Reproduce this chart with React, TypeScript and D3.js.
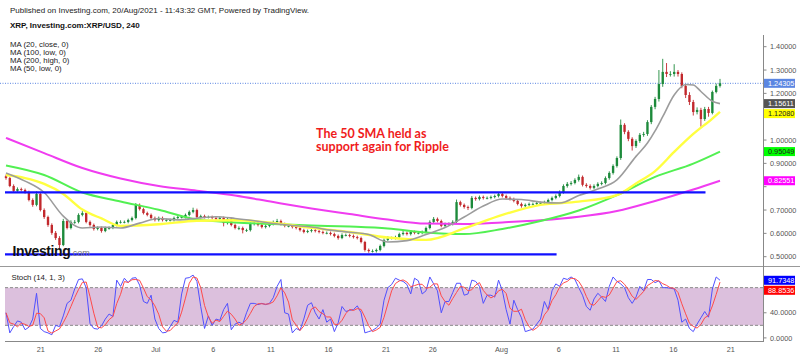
import React from 'react';
import * as d3 from 'd3';

// ---------- DATA ----------
const firstOpen = 0.845;
const closes = [
  0.837,0.803,0.782,0.790,0.786,0.777,0.743,0.722,0.769,0.700,
  0.670,0.636,0.602,0.580,0.550,0.653,0.623,0.649,0.649,0.679,
  0.687,0.649,0.636,0.619,0.623,0.610,0.623,0.623,0.636,0.649,
  0.649,0.649,0.657,0.666,0.722,0.704,0.687,0.679,0.666,0.657,
  0.666,0.657,0.657,0.657,0.666,0.670,0.670,0.679,0.692,0.700,
  0.670,0.674,0.670,0.670,0.666,0.662,0.666,0.644,0.662,0.636,
  0.623,0.623,0.614,0.614,0.640,0.644,0.636,0.627,0.632,0.640,
  0.649,0.653,0.640,0.632,0.632,0.627,0.623,0.614,0.606,0.610,
  0.614,0.610,0.606,0.602,0.602,0.597,0.589,0.580,0.593,0.593,
  0.589,0.584,0.580,0.563,0.529,0.524,0.524,0.529,0.546,0.572,
  0.580,0.580,0.584,0.597,0.602,0.597,0.606,0.602,0.602,0.606,
  0.623,0.649,0.662,0.653,0.632,0.640,0.640,0.649,0.734,0.722,
  0.713,0.709,0.752,0.747,0.756,0.752,0.752,0.756,0.760,0.769,
  0.760,0.752,0.747,0.739,0.726,0.717,0.722,0.726,0.726,0.730,
  0.730,0.734,0.743,0.752,0.760,0.777,0.803,0.812,0.816,0.829,
  0.842,0.808,0.803,0.795,0.803,0.812,0.816,0.837,0.859,0.889,
  0.923,1.065,1.035,1.005,0.974,0.996,1.022,1.026,1.077,1.142,
  1.176,1.240,1.292,1.283,1.283,1.292,1.283,1.232,1.193,1.163,
  1.120,1.129,1.090,1.133,1.116,1.206,1.232,1.24305,
];
const highs = [
  0.852,0.842,0.810,0.797,0.796,0.792,0.783,0.750,0.780,0.775,
  0.707,0.676,0.643,0.610,0.588,0.662,0.660,0.656,0.657,0.686,
  0.695,0.693,0.655,0.642,0.630,0.629,0.629,0.630,0.642,0.655,
  0.656,0.655,0.663,0.672,0.730,0.728,0.710,0.693,0.685,0.672,
  0.672,0.672,0.663,0.663,0.672,0.676,0.676,0.685,0.698,0.710,
  0.706,0.680,0.680,0.676,0.676,0.672,0.672,0.672,0.668,0.668,
  0.642,0.630,0.629,0.620,0.646,0.652,0.650,0.642,0.638,0.646,
  0.655,0.662,0.659,0.646,0.638,0.638,0.633,0.629,0.620,0.616,
  0.620,0.620,0.616,0.612,0.608,0.608,0.603,0.595,0.600,0.599,
  0.599,0.595,0.590,0.586,0.568,0.535,0.531,0.535,0.552,0.578,
  0.588,0.586,0.590,0.603,0.610,0.608,0.612,0.612,0.608,0.612,
  0.629,0.656,0.670,0.668,0.659,0.646,0.647,0.656,0.745,0.740,
  0.728,0.719,0.760,0.758,0.762,0.762,0.758,0.762,0.766,0.777,
  0.775,0.766,0.758,0.753,0.745,0.732,0.728,0.732,0.732,0.736,
  0.736,0.740,0.749,0.758,0.767,0.784,0.810,0.820,0.824,0.836,
  0.852,0.848,0.815,0.810,0.810,0.819,0.823,0.844,0.866,0.896,
  0.930,1.088,1.072,1.042,1.012,1.003,1.030,1.035,1.085,1.150,
  1.185,1.300,1.348,1.330,1.295,1.325,1.300,1.290,1.240,1.205,
  1.172,1.140,1.138,1.142,1.142,1.212,1.242,1.262,
];
const lows = [
  0.830,0.798,0.776,0.778,0.780,0.770,0.737,0.714,0.716,0.694,
  0.662,0.628,0.594,0.572,0.537,0.545,0.617,0.617,0.641,0.643,
  0.673,0.643,0.629,0.612,0.613,0.603,0.605,0.616,0.618,0.630,
  0.642,0.643,0.643,0.651,0.660,0.698,0.681,0.673,0.660,0.651,
  0.651,0.651,0.650,0.651,0.651,0.660,0.664,0.664,0.673,0.686,
  0.664,0.664,0.664,0.664,0.660,0.656,0.656,0.630,0.638,0.630,
  0.617,0.614,0.600,0.606,0.608,0.634,0.630,0.621,0.621,0.626,
  0.634,0.643,0.634,0.626,0.626,0.621,0.617,0.608,0.600,0.601,
  0.604,0.604,0.600,0.596,0.596,0.591,0.583,0.573,0.575,0.587,
  0.583,0.578,0.574,0.557,0.522,0.517,0.518,0.518,0.523,0.540,
  0.566,0.574,0.574,0.578,0.591,0.591,0.591,0.596,0.596,0.596,
  0.600,0.617,0.643,0.647,0.626,0.626,0.634,0.634,0.643,0.715,
  0.706,0.700,0.703,0.740,0.741,0.745,0.746,0.746,0.750,0.754,
  0.754,0.746,0.741,0.733,0.720,0.710,0.711,0.716,0.720,0.720,
  0.723,0.724,0.728,0.737,0.746,0.754,0.770,0.796,0.805,0.810,
  0.822,0.801,0.796,0.788,0.789,0.797,0.806,0.810,0.830,0.852,
  0.882,0.915,1.025,0.995,0.955,0.966,0.988,1.014,1.018,1.068,
  1.132,1.165,1.228,1.270,1.272,1.272,1.272,1.222,1.180,1.150,
  1.105,1.110,1.057,1.082,1.100,1.110,1.200,1.225,
];

// moving averages: [candle index, value]
const ma20 = [
  [0,0.859],[5,0.824],[10,0.775],[15,0.674],[20,0.623],[25,0.627],[30,0.623],[35,0.644],
  [40,0.664],[45,0.658],[50,0.665],[55,0.671],[60,0.664],[65,0.654],[70,0.642],[75,0.634],
  [80,0.627],[85,0.614],[90,0.605],[95,0.595],[100,0.563],[105,0.569],[110,0.595],[115,0.625],
  [120,0.670],[125,0.717],[130,0.747],[135,0.745],[140,0.734],[145,0.730],[150,0.762],[155,0.790],
  [160,0.829],[165,0.930],[168,0.987],[170,1.039],[172,1.100],[175,1.193],[178,1.238],[180,1.236],
  [182,1.208],[185,1.166],[187,1.15611],
];
const ma50 = [
  [0,0.850],[5,0.837],[10,0.812],[15,0.769],[20,0.702],[25,0.664],[30,0.632],[40,0.639],
  [50,0.654],[60,0.656],[70,0.645],[80,0.624],[90,0.606],[100,0.582],[110,0.572],[120,0.621],
  [130,0.679],[140,0.722],[150,0.736],[160,0.764],[165,0.814],[170,0.867],[175,0.949],[180,1.026],
  [185,1.092],[187,1.1208],
];
const ma100 = [
  [0,0.891],[10,0.850],[20,0.775],[30,0.737],[40,0.701],[50,0.659],[60,0.647],[70,0.640],
  [80,0.634],[90,0.629],[100,0.621],[110,0.604],[120,0.597],[130,0.619],[140,0.653],[150,0.698],
  [160,0.764],[170,0.842],[180,0.899],[187,0.95049],
];
const ma200 = [
  [0,1.009],[10,0.944],[20,0.880],[30,0.835],[40,0.803],[50,0.783],[60,0.762],[70,0.734],
  [80,0.707],[90,0.683],[100,0.659],[110,0.642],[120,0.640],[130,0.647],[140,0.656],[150,0.671],
  [160,0.696],[170,0.739],[180,0.788],[187,0.82551],
];

const stochK = [
  40,8,18,27,25,13,17,30,71,15,
  10,8,5,20,18,35,55,60,78,93,
  94,80,23,15,14,19,30,38,34,92,
  82,95,88,95,96,84,58,55,68,30,
  15,8,9,18,28,25,70,95,96,100,
  90,50,15,35,20,30,28,45,55,13,
  22,25,22,40,55,55,53,55,53,55,
  64,82,93,40,38,8,15,12,30,52,
  56,40,30,45,25,30,10,24,50,42,
  44,45,51,40,8,10,12,16,22,60,
  80,85,95,92,90,85,70,95,91,70,
  75,97,86,75,40,58,58,72,87,87,
  68,70,92,90,82,55,68,68,65,92,
  75,45,22,60,45,32,10,12,14,22,
  30,58,45,75,86,82,95,93,97,93,
  80,68,50,44,62,71,65,58,82,97,
  90,86,80,64,55,65,82,75,93,93,
  88,91,80,80,79,78,60,25,30,15,
  10,22,32,42,33,77.826,97,91.7348,
];

// support / resistance drawings: [price, start index, end index]
const hLines = [
  [0.776, -0.26, 183.2],
  [0.510, -0.26, 144.2],
];

const priceTicks = [1.4, 1.3, 1.2, 1.1, 1.0, 0.9, 0.8, 0.7, 0.6, 0.5];
const stochTicks = [0, 40, 80];
const dateTicks = [
  '2021-06-21','2021-06-26','2021-07-01','2021-07-06','2021-07-11','2021-07-16','2021-07-21',
  '2021-07-26','2021-08-01','2021-08-06','2021-08-11','2021-08-16','2021-08-21',
];
const legendLines = ['MA (20, close, 0)', 'MA (100, low, 0)', 'MA (200, high, 0)', 'MA (50, low, 0)'];

const FONT = "'Liberation Sans', Arial, sans-serif";

export default function App() {
  const N = closes.length;
  const x = d3.scaleLinear().domain([0, N - 1]).range([6, 720]);
  const y = d3.scaleLinear().domain([0.5, 1.4]).range([256.7, 46.7]);
  const ys = d3.scaleLinear().domain([0, 100]).range([337.9, 275.1]);
  const xt = d3.scaleTime()
    .domain([new Date(2021, 5, 21), new Date(2021, 6, 21), new Date(2021, 6, 26), new Date(2021, 7, 21)])
    .range([40.7, 386, 432.7, 730.7]);

  const opens = closes.map((c, i) => (i === 0 ? firstOpen : closes[i - 1]));
  const step = x(1) - x(0);
  const bw = step * 0.62;

  const maLine = d3.line<number[]>().x(d => x(d[0])).y(d => y(d[1])).curve(d3.curveMonotoneX);
  const stochD = stochK.map((_, i) => d3.mean(stochK.slice(Math.max(0, i - 2), i + 1)) as number);
  const kLine = d3.line<number>().x((_, i) => x(i)).y(d => ys(d));

  const axisX = 763.5;
  const lastClose = closes[N - 1];

  const placeLabels = (items: any[], scale: any, gap: number) => {
    const sorted = items.map(d => ({ ...d, yy: scale(d.v) })).sort((a, b) => a.yy - b.yy);
    let prev = -1e9;
    sorted.forEach(d => { d.yy = Math.max(d.yy, prev + gap); prev = d.yy; });
    return sorted;
  };
  const mainLabels = placeLabels([
    { v: lastClose, bg: '#5b86e2', fg: '#fff', txt: lastClose.toFixed(5) },
    { v: ma20[ma20.length - 1][1], bg: '#545454', fg: '#fff', txt: ma20[ma20.length - 1][1].toFixed(5) },
    { v: ma50[ma50.length - 1][1], bg: '#ffff00', fg: '#222', txt: ma50[ma50.length - 1][1].toFixed(5) },
    { v: ma100[ma100.length - 1][1], bg: '#00ff00', fg: '#222', txt: ma100[ma100.length - 1][1].toFixed(5) },
    { v: ma200[ma200.length - 1][1], bg: '#ff00ff', fg: '#fff', txt: ma200[ma200.length - 1][1].toFixed(5) },
  ], y, 10);
  const lastK = stochK[N - 1];
  const lastD = stochD[N - 1];
  const stochLabels = placeLabels([
    { v: lastK, bg: '#0000ff', fg: '#fff', txt: lastK.toFixed(4) },
    { v: lastD, bg: '#ff0000', fg: '#fff', txt: lastD.toFixed(4) },
  ], ys, 10);

  // axis tick labels hidden behind a value label are not drawn
  const labelYs = mainLabels.concat(stochLabels).map(l => l.yy);
  const free = (yy: number) => labelYs.every(ly => Math.abs(ly - yy) > 7);

  const monthFmt = d3.timeFormat('%b');
  const dayFmt = d3.timeFormat('%-d');
  const parse = d3.timeParse('%Y-%m-%d');

  return (
    <svg width={800} height={357} style={{ position: 'absolute', left: 0, top: 0, background: '#fff' }}
      fontFamily={FONT}>
      <rect x={0} y={0} width={800} height={357} fill="#fff" />
      {/* header */}
      <text x={10} y={12.5} fontSize={8} fill="#222">
        Published on Investing.com, 20/Aug/2021 - 11:43:32 GMT, Powered by TradingView.
      </text>
      <text x={10} y={28} fontSize={8} fontWeight="bold" fill="#111">XRP, Investing.com:XRP/USD, 240</text>
      {legendLines.map((t, i) => (
        <text key={t} x={10} y={46.5 + i * 8.3} fontSize={7.8} fill="#222">{t}</text>
      ))}

      {/* stoch band */}
      <rect x={5} y={ys(80)} width={axisX - 5} height={ys(20) - ys(80)} fill="#dcc0dd" />
      {[80, 20].map(v => (
        <line key={v} x1={5} x2={axisX} y1={ys(v)} y2={ys(v)} stroke="#8a8a8a" strokeDasharray="3,2" strokeWidth={1} />
      ))}

      {/* last price line */}
      <line x1={0} x2={axisX} y1={y(lastClose)} y2={y(lastClose)} stroke="#5b86e2" strokeDasharray="1,1.5" strokeWidth={1} />

      {/* candles */}
      {closes.map((c, i) => {
        const o = opens[i];
        const up = c >= o;
        const col = up ? '#1d8a3b' : '#c2282c';
        const cx = x(i);
        const top = y(Math.max(o, c));
        const bot = y(Math.min(o, c));
        return (
          <g key={i}>
            <line x1={cx} x2={cx} y1={y(highs[i])} y2={y(lows[i])} stroke={col} strokeWidth={0.9} />
            <rect x={cx - bw / 2} y={top} width={bw} height={Math.max(0.8, bot - top)} fill={col} />
          </g>
        );
      })}

      {/* moving averages */}
      <path d={maLine(ma200 as any) || ''} fill="none" stroke="#f03cf0" strokeWidth={2} />
      <path d={maLine(ma100 as any) || ''} fill="none" stroke="#52f052" strokeWidth={2} />
      <path d={maLine(ma50 as any) || ''} fill="none" stroke="#ffff40" strokeWidth={2.4} />
      <path d={maLine(ma20 as any) || ''} fill="none" stroke="#9c9c9c" strokeWidth={1.6} />

      {/* horizontal drawings */}
      {hLines.map((h, i) => (
        <line key={i} x1={x(h[1])} x2={x(h[2])} y1={y(h[0])} y2={y(h[0])} stroke="#1010ff" strokeWidth={2.2} />
      ))}

      {/* annotation */}
      <text x={316} y={137.5} fontSize={12.5} fontWeight="bold" fill="#f01c1c" fontFamily="Lato, sans-serif">The 50 SMA held as</text>
      <text x={316} y={151} fontSize={12.5} fontWeight="bold" fill="#f01c1c" fontFamily="Lato, sans-serif">support again for Ripple</text>

      {/* watermark */}
      <text x={12.5} y={256} fontSize={14} fontWeight="bold" fill="#111" letterSpacing={-0.4}>
        Investing<tspan fontSize={9} fontWeight="normal" fill="#777" letterSpacing={0}>.com</tspan>
      </text>

      {/* stoch lines */}
      <path d={kLine(stochK) || ''} fill="none" stroke="#5050ff" strokeWidth={1} />
      <path d={kLine(stochD) || ''} fill="none" stroke="#ff4a4a" strokeWidth={1} />
      <text x={11.5} y={279.5} fontSize={7.8} fill="#222">Stoch (14, 1, 3)</text>

      {/* separators and axes */}
      <line x1={0} x2={800} y1={266.5} y2={266.5} stroke="#999" strokeWidth={1} />
      <line x1={5} x2={axisX} y1={341.5} y2={341.5} stroke="#888" strokeWidth={1} />
      <line x1={axisX} x2={axisX} y1={35} y2={342} stroke="#888" strokeWidth={1} />

      {priceTicks.map(t => (
        <g key={t}>
          <line x1={axisX} x2={axisX + 3} y1={y(t)} y2={y(t)} stroke="#888" />
          {free(y(t)) && <text x={770} y={y(t) + 2.6} fontSize={7.3} fill="#555">{t.toFixed(5)}</text>}
        </g>
      ))}
      {stochTicks.map(t => (
        <g key={t}>
          <line x1={axisX} x2={axisX + 3} y1={ys(t)} y2={ys(t)} stroke="#888" />
          {free(ys(t)) && <text x={770} y={ys(t) + 2.6} fontSize={7.3} fill="#555">{t.toFixed(4)}</text>}
        </g>
      ))}

      {mainLabels.concat(stochLabels).map((l, i) => (
        <g key={i}>
          <rect x={axisX + 0.5} y={l.yy - 4.5} width={31} height={9} fill={l.bg} />
          <text x={768} y={l.yy + 2.6} fontSize={7.3} fill={l.fg}>{l.txt}</text>
        </g>
      ))}

      {dateTicks.map(s => {
        const d = parse(s) as Date;
        const lab = d.getDate() === 1 ? monthFmt(d) : dayFmt(d);
        return (
          <text key={s} x={xt(d)} y={352} fontSize={7.3} fill="#555" textAnchor="middle">{lab}</text>
        );
      })}
    </svg>
  );
}
